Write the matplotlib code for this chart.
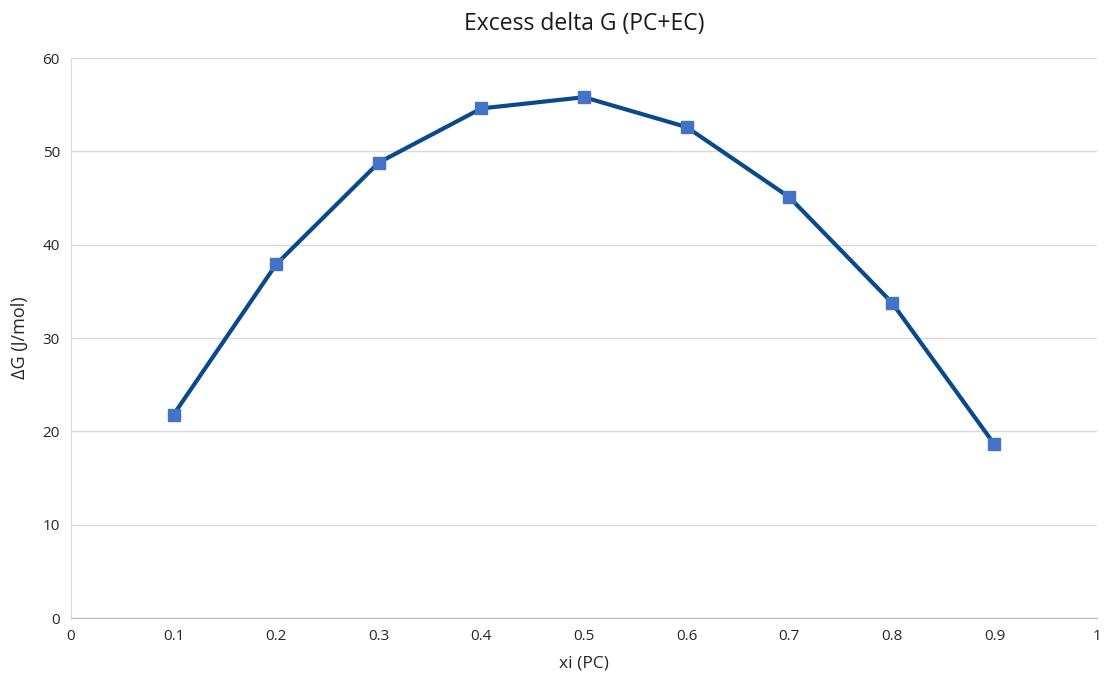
import matplotlib.pyplot as plt

plt.rcParams['font.family'] = ['Open Sans', 'DejaVu Sans']

# mole fraction of PC and excess Gibbs energy
xi = [0.1, 0.2, 0.3, 0.4, 0.5, 0.6, 0.7, 0.8, 0.9]
dG = [21.8, 37.9, 48.8, 54.6, 55.8, 52.6, 45.1, 33.8, 18.6]
xticks = [0, 0.1, 0.2, 0.3, 0.4, 0.5, 0.6, 0.7, 0.8, 0.9, 1]
xtick_labels = ['0', '0.1', '0.2', '0.3', '0.4', '0.5', '0.6', '0.7', '0.8', '0.9', '1']
yticks = [0, 10, 20, 30, 40, 50, 60]

fig = plt.figure(figsize=(11.06, 6.89), dpi=100)
ax = fig.add_axes([0.0642, 0.103, 0.9277, 0.8128])

ax.plot(xi, dG, color='#0a4a8c', linewidth=3, marker='s', markersize=9,
        markerfacecolor='#4472c4', markeredgecolor='#4472c4', zorder=3)

ax.set_xlim(0, 1)
ax.set_ylim(0, 60)
ax.set_xticks(xticks)
ax.set_xticklabels(xtick_labels)
ax.set_yticks(yticks)
ax.grid(axis='y', color='#d9d9d9', linewidth=1)
ax.set_axisbelow(True)

for s in ['top', 'right']:
    ax.spines[s].set_visible(False)
ax.spines['left'].set_color('#d9d9d9')
ax.spines['bottom'].set_color('#bfbfbf')
ax.tick_params(length=0, labelsize=11, colors='#262626', pad=8)

ax.set_title('Excess delta G (PC+EC)', fontsize=16.5, color='#1a1a1a', pad=20)
ax.set_xlabel('xi (PC)', fontsize=12.5, color='#262626', labelpad=8)
ax.set_ylabel('ΔG (J/mol)', fontsize=13, color='#262626', labelpad=10)

fig.savefig('out.png', dpi=100)
